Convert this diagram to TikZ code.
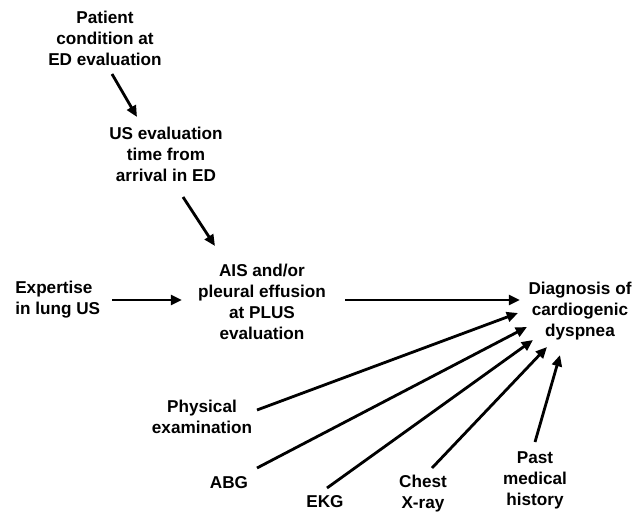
\documentclass[tikz,border=0pt]{standalone}
\usepackage{fontspec}
\setmainfont{Liberation Sans}
\usepackage{tikz}
\usetikzlibrary{arrows.meta, positioning, calc}

\begin{document}
\begin{tikzpicture}[
        x=0.025cm, y=-0.025cm,
        lbl/.style={inner sep=0pt, align=center,
                    font=\bfseries\fontsize{12.2}{14.9}\selectfont},
        arr/.style={-{Triangle[length=8pt, width=7pt]}, line width=2pt}
      ]
        \useasboundingbox (0,0) rectangle (644,513);
        \node[lbl] (pat)  at (105,38)  {Patient\\condition at\\ED evaluation};
        \node[lbl] (usev) at (166,154) {US evaluation\\time from\\arrival in ED};
        \node[lbl] (ais)  at (262,302) {AIS and/or\\pleural effusion\\at PLUS\\evaluation};
        \node[lbl, align=left, anchor=west] (expt) at (15,300) {Expertise\\in lung US};
        \node[lbl] (diag) at (580,311) {Diagnosis of\\cardiogenic\\dyspnea};
        \node[lbl] (phys) at (202,417) {Physical\\examination};
        \node[lbl] (abg)  at (229,483) {ABG};
        \node[lbl] (ekg)  at (325,502) {EKG};
        \node[lbl] (cxr)  at (423,494) {Chest\\X-ray};
        \node[lbl] (pmh)  at (535,480) {Past\\medical\\history};
        % upper chain
        \draw[arr] ([shift={(7,36)}]pat.center)   -- ([shift={(-29,-37)}]usev.center);
        \draw[arr] ([shift={(17,43)}]usev.center) -- ([shift={(-47,-56)}]ais.center);
        \draw[arr] ([shift={(97,0)}]expt.west)    -- ([shift={(-80,-2)}]ais.center);
        \draw[arr] ([shift={(83,-2)}]ais.center)  -- ([shift={(-60,-11)}]diag.center);
        % converging on the diagnosis
        \draw[arr] ([shift={(55,-7)}]phys.center) -- ([shift={(-62,2)}]diag.center);
        \draw[arr] ([shift={(28,-15)}]abg.center) -- ([shift={(-53,16)}]diag.center);
        \draw[arr] ([shift={(2,-14)}]ekg.center)  -- ([shift={(-47,29)}]diag.center);
        \draw[arr] ([shift={(9,-26)}]cxr.center)  -- ([shift={(-33,36)}]diag.center);
        \draw[arr] ([shift={(0,-38)}]pmh.center)  -- ([shift={(-20,44)}]diag.center);
      \end{tikzpicture}
\end{document}
